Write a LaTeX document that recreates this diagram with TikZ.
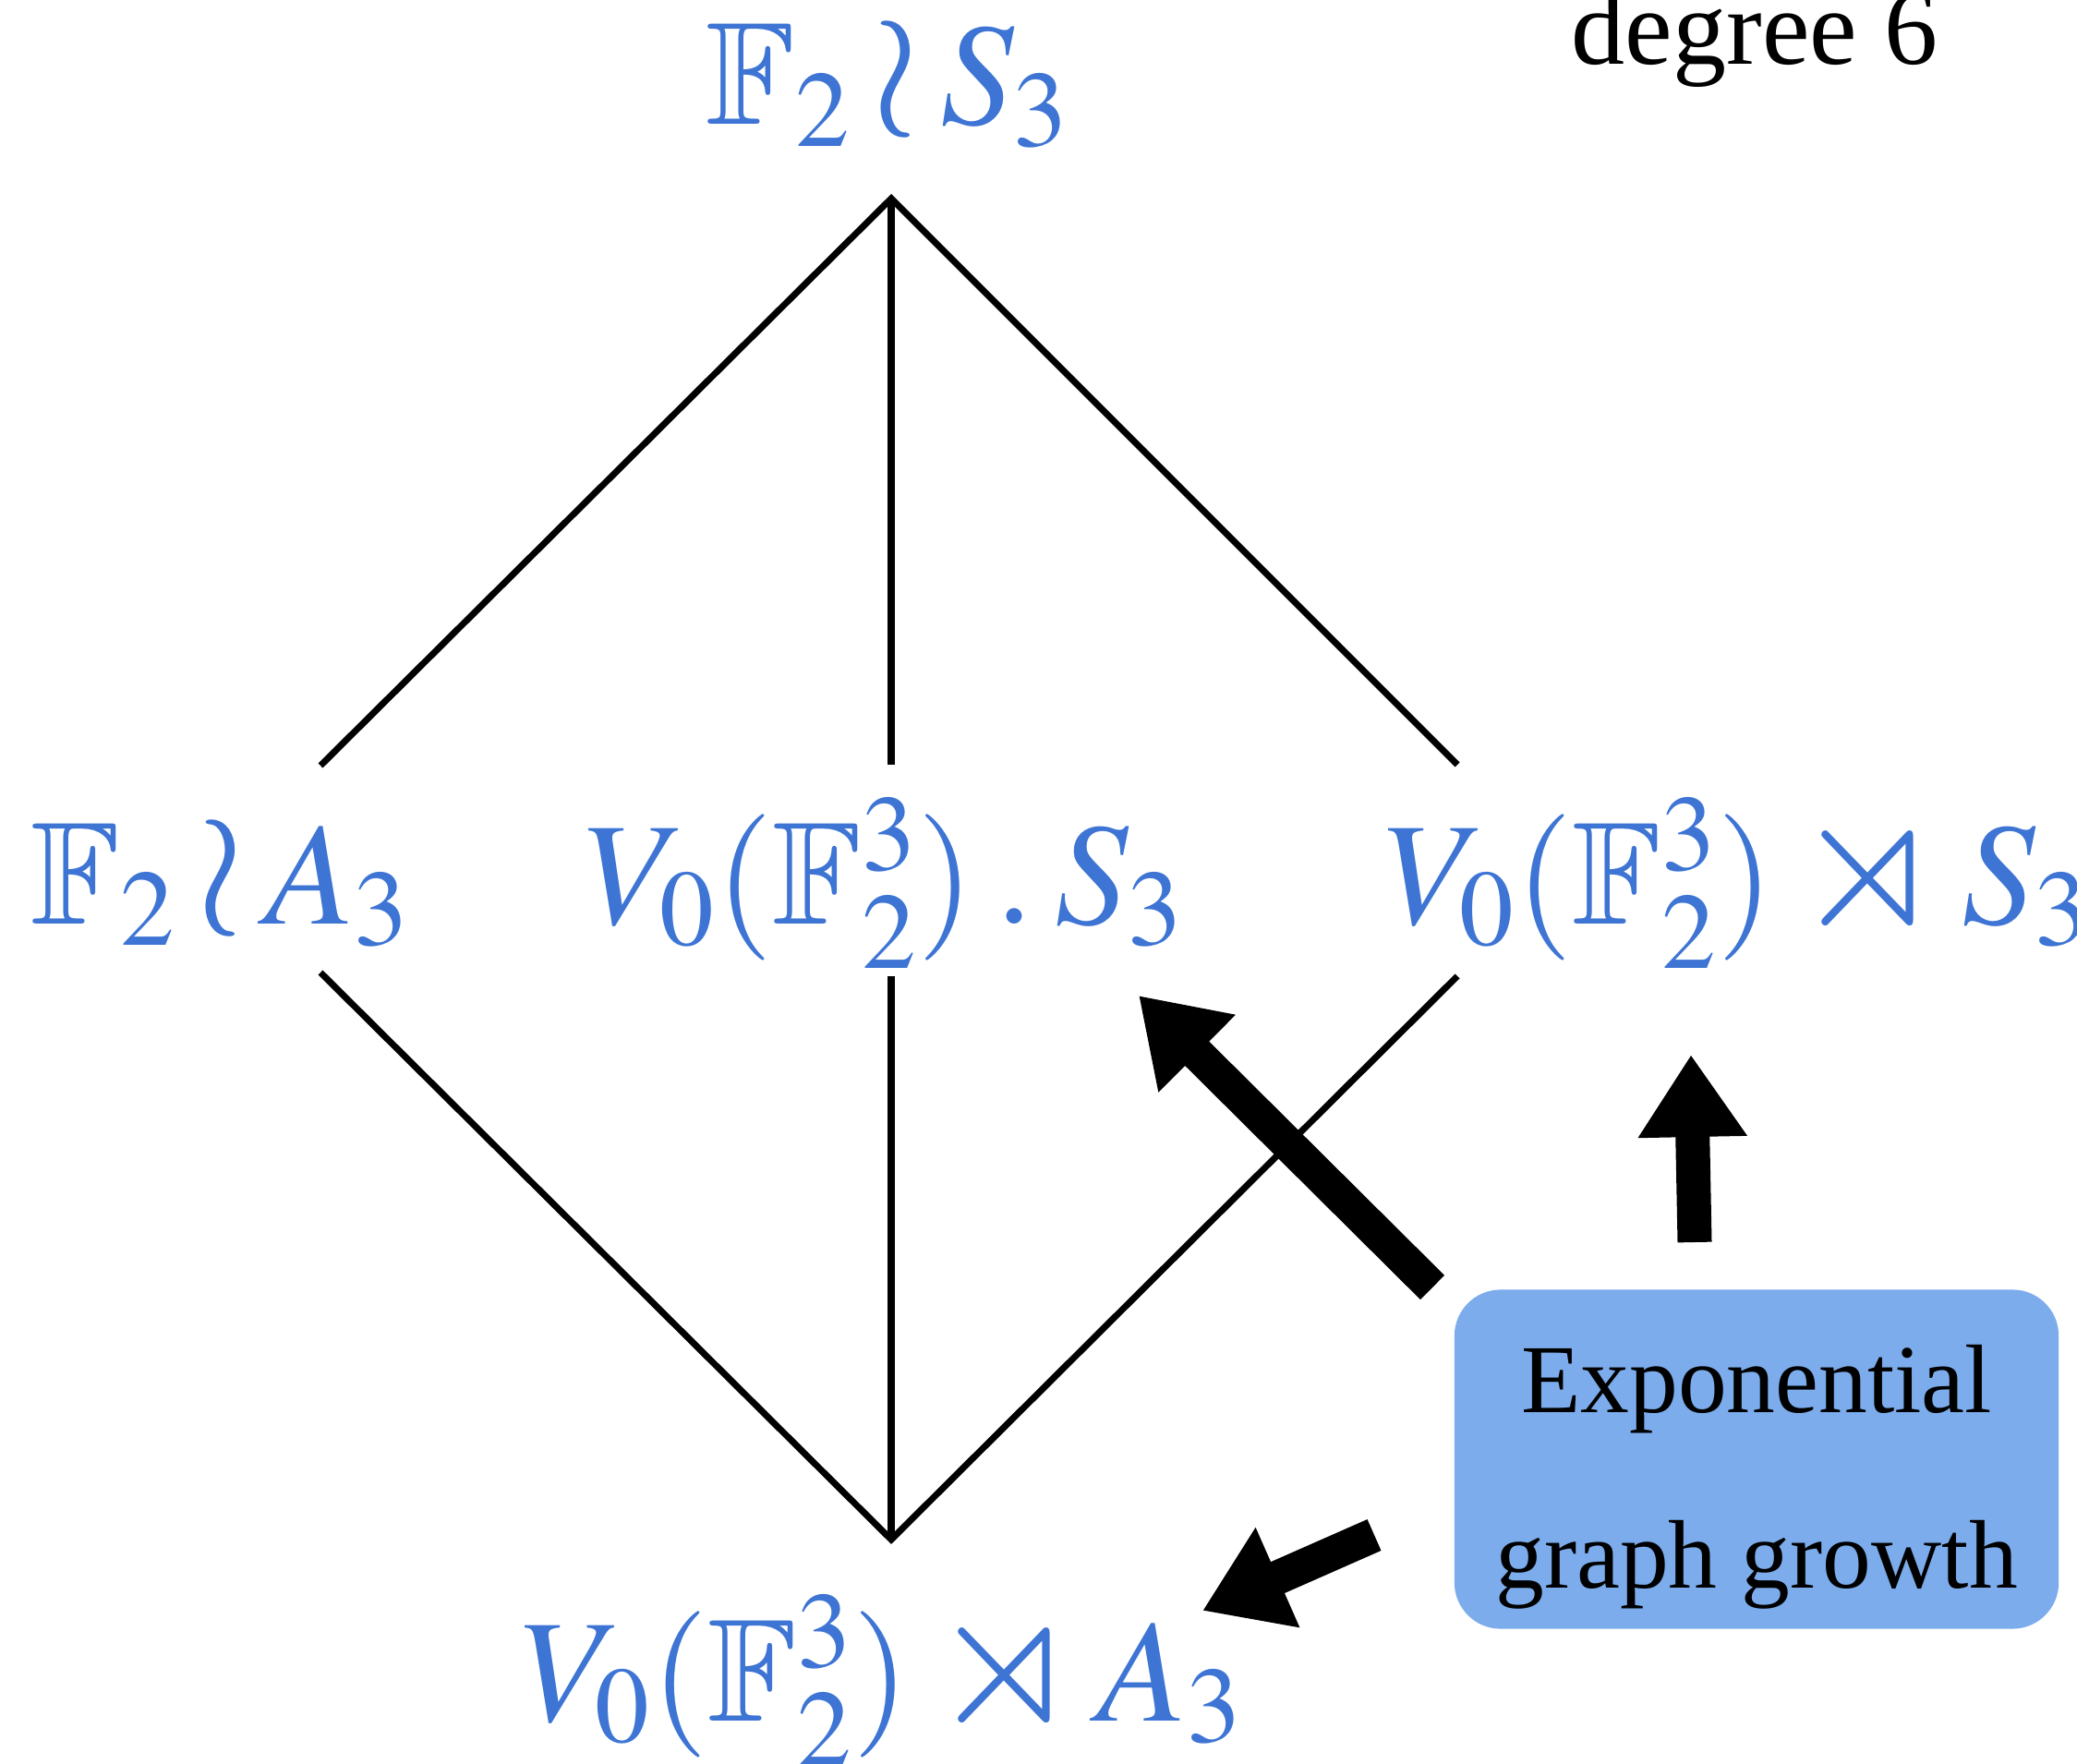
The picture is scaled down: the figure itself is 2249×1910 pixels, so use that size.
\documentclass[tikz,border=0pt]{standalone}
\usepackage{graphicx}
\usepackage{amssymb}
\usepackage{mathptmx}
\usepackage[no-math]{fontspec}
\setmainfont{Liberation Serif}
\usetikzlibrary{arrows.meta}
\definecolor{labelblue}{RGB}{62,117,212}
\definecolor{boxblue}{RGB}{124,172,236}
\newcommand{\wreath}{\mathbin{\raisebox{0.06em}{$\vcenter{\hbox{\scalebox{1.2}{$\wr$}}}$}}}
\newcommand{\semidirect}{\mathbin{\raisebox{0.06em}{$\vcenter{\hbox{\scalebox{1.3}[1.35]{$\rtimes$}}}$}}}

\begin{document}
\begin{tikzpicture}[x=0.01cm, y=-0.01cm,
    grp/.style={text=labelblue, anchor=base, inner sep=0pt,
                font=\fontsize{45}{54}\selectfont},
    hasse/.style={line width=2pt},
    push/.style={line width=0.37cm, -{Triangle[length=0.89cm, width=1.12cm]}},
    growth/.style={fill=boxblue, rounded corners=0.5cm, minimum width=6.54cm,
                   minimum height=3.67cm, align=center, inner sep=0pt,
                   font=\fontsize{30}{54}\selectfont}]
  \useasboundingbox (0,0) rectangle (2249,1910);

  \node[anchor=base, inner sep=0pt, font=\fontsize{33}{38}\selectfont] (deg) at (1900,70) {degree 6};

  \node[grp] (wrS) at (961,135) {$\mathbb{F}_2 \wreath S_3$};
  \node[grp] (wrA) at (239,1000) {$\mathbb{F}_2 \wreath A_3$};
  \node[grp] (dotS) at (958,1000) {$V_0(\mathbb{F}_2^3)\mathbin{.}S_3$};
  \node[grp] (sdS) at (1882,1000) {$V_0(\mathbb{F}_2^3) \semidirect S_3$};
  \node[grp] (sdA) at (955,1863) {$V_0(\mathbb{F}_2^3) \semidirect A_3$};

  \coordinate (top) at (965,215);
  \coordinate (bot) at (965,1667);
  \coordinate (l1) at (347,829);  \coordinate (l2) at (347,1053);
  \coordinate (m1) at (965,828);  \coordinate (m2) at (965,1057);
  \coordinate (r1) at (1578,828); \coordinate (r2) at (1578,1057);

  \draw[hasse] (l1) -- (top) -- (r1);
  \draw[hasse] (top) -- (m1);
  \draw[hasse] (l2) -- (bot) -- (r2);
  \draw[hasse] (m2) -- (bot);

  \node[growth] (eg) at (1902,1580) {\rule{0pt}{32pt}Exponential\\graph growth};

  \coordinate (a1) at (1551,1394); \coordinate (t1) at (1233,1078);
  \coordinate (a2) at (1835,1345); \coordinate (t2) at (1831,1142);
  \coordinate (a3) at (1488,1662); \coordinate (t3) at (1302,1744);

  \draw[push] (a1) -- (t1);
  \draw[push] (a2) -- (t2);
  \draw[push] (a3) -- (t3);
\end{tikzpicture}
\end{document}
